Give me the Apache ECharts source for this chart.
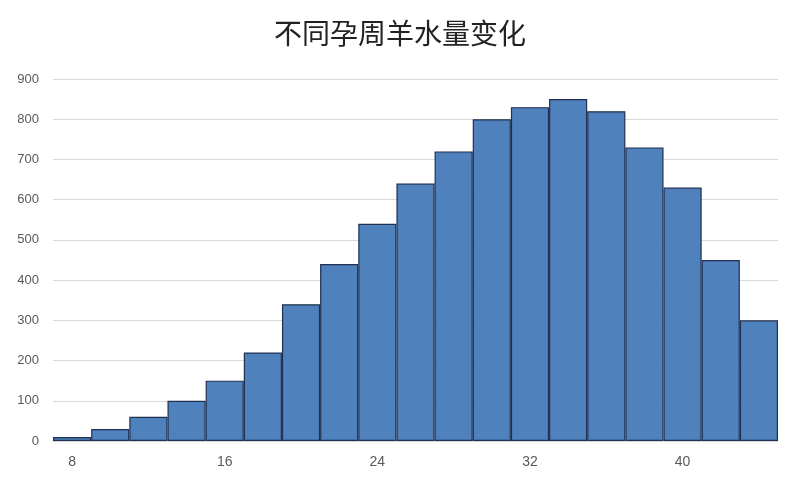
<!DOCTYPE html>
<html><head><meta charset="utf-8">
<script src="https://cdn.jsdelivr.net/npm/echarts@6/dist/echarts.min.js"></script>
<style>html,body{margin:0;padding:0;background:#fff}#c{width:800px;height:489px}</style>
</head><body><div id="c"></div>
<script>
const weeks = [8,10,12,14,16,18,20,22,24,26,28,30,32,34,36,38,40,42,44];
const volume = [10,30,60,100,150,220,340,440,540,640,720,800,830,850,820,730,630,450,300];
const chart = echarts.init(document.getElementById('c'));
chart.setOption({
  animation:false,
  title:{text:'不同孕周羊水量变化',left:'center',top:14,textStyle:{fontFamily:'Noto Sans CJK SC',fontWeight:'normal',fontSize:28,color:'#222'}},
  grid:{left:53,right:22,top:79,bottom:48},
  xAxis:{type:'category',data:weeks.map(String),
    axisLine:{lineStyle:{color:'#d9d9d9'}},axisTick:{show:false},
    axisLabel:{interval:3,color:'#595959',fontSize:14,margin:14}},
  yAxis:{type:'value',min:0,max:900,interval:100,
    axisLine:{show:false},axisTick:{show:false},
    axisLabel:{color:'#595959',fontSize:13,margin:14},
    splitLine:{lineStyle:{color:'#d9d9d9'}}},
  series:[{type:'bar',data:volume,barCategoryGap:'0%',
    itemStyle:{color:'#4f81bd',borderColor:'#1f3050',borderWidth:1.2}}]
});
</script></body></html>
